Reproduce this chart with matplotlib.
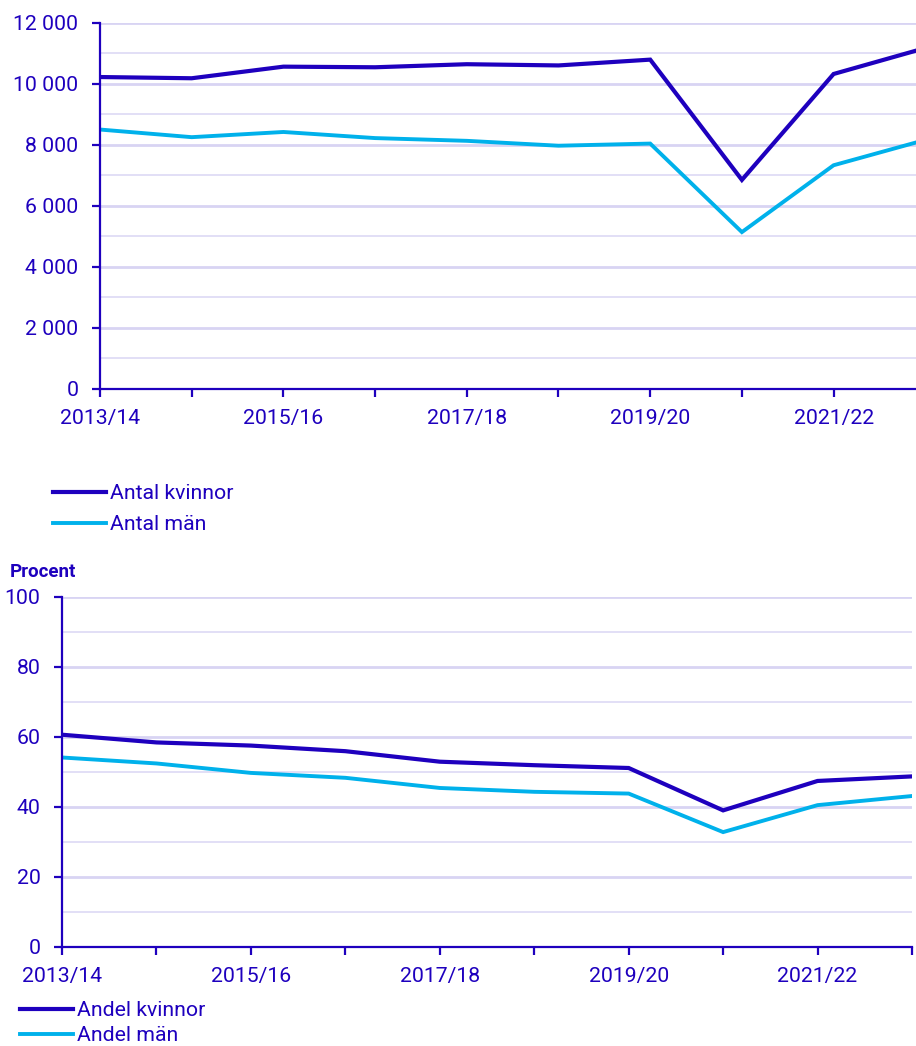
import matplotlib
matplotlib.use("Agg")
import matplotlib.pyplot as plt
from matplotlib.ticker import FuncFormatter, MultipleLocator

plt.rcParams["font.family"] = ["Roboto", "DejaVu Sans"]

# data
years = ["2013/14", "2014/15", "2015/16", "2016/17", "2017/18",
         "2018/19", "2019/20", "2020/21", "2021/22", "2022/23"]
antal_kvinnor = [10220, 10180, 10560, 10540, 10640, 10600, 10790, 6850, 10320, 11170]
antal_man = [8500, 8250, 8420, 8220, 8130, 7970, 8040, 5140, 7330, 8160]
andel_kvinnor = [60.6, 58.4, 57.5, 55.9, 52.9, 51.9, 51.1, 39.0, 47.4, 48.7]
andel_man = [54.1, 52.4, 49.7, 48.3, 45.4, 44.3, 43.8, 32.8, 40.5, 43.1]

DARK = "#1E00BE"
LIGHT = "#00B1EB"
GRID = "#D8D4F3"
FS = 15.3

W, H = 916, 1046
fig = plt.figure(figsize=(W / 100, H / 100), dpi=100)


def px_axes(x0, y0, x1, y1):
    # pixel box (top-left origin) -> figure fraction
    return fig.add_axes([x0 / W, 1 - y1 / H, (x1 - x0) / W, (y1 - y0) / H])


def style(ax, ymax, major, minor, fmt):
    x = range(len(years))
    ax.set_xlim(0, len(years) - 1)
    ax.set_ylim(0, ymax)
    ax.set_xticks(list(x))
    ax.set_xticklabels([y if i % 2 == 0 else "" for i, y in enumerate(years)])
    ax.yaxis.set_major_locator(MultipleLocator(major))
    ax.yaxis.set_minor_locator(MultipleLocator(minor))
    ax.yaxis.set_major_formatter(FuncFormatter(fmt))
    ax.grid(axis="y", which="major", color=GRID, lw=2.0)
    ax.grid(axis="y", which="minor", color=GRID, lw=1.3, alpha=0.8)
    ax.set_axisbelow(True)
    for s in ("top", "right"):
        ax.spines[s].set_visible(False)
    for s in ("left", "bottom"):
        ax.spines[s].set_color(DARK)
        ax.spines[s].set_linewidth(1.6)
    ax.tick_params(axis="both", which="major", colors=DARK, labelcolor=DARK,
                   labelsize=FS, length=5.5, width=1.6)
    ax.tick_params(axis="y", which="minor", length=0)
    ax.tick_params(axis="y", pad=10)
    ax.tick_params(axis="x", pad=9)


def thousands(v, pos):
    return f"{int(v):,}".replace(",", " ")


# top panel: the last category falls just past the right edge of the image
ax1 = px_axes(100, 22.7, 925.3, 389)
style(ax1, 12000, 2000, 1000, thousands)
l1, = ax1.plot(range(len(years)), antal_kvinnor, color=DARK, lw=3.0,
               solid_joinstyle="miter", label="Antal kvinnor")
l2, = ax1.plot(range(len(years)), antal_man, color=LIGHT, lw=2.8,
               solid_joinstyle="miter", label="Antal män")

fig.legend(handles=[l1, l2], loc="upper left", bbox_to_anchor=(53 / W, 1 - 484 / H),
           frameon=False, fontsize=FS, labelcolor=DARK, handlelength=2.5,
           handletextpad=0.2, labelspacing=0.58, borderpad=0, borderaxespad=0)

# bottom panel
ax2 = px_axes(62, 596.7, 912, 947)
style(ax2, 100, 20, 10, lambda v, p: f"{int(v)}")
l3, = ax2.plot(range(len(years)), andel_kvinnor, color=DARK, lw=3.0,
               solid_joinstyle="miter", label="Andel kvinnor")
l4, = ax2.plot(range(len(years)), andel_man, color=LIGHT, lw=2.8,
               solid_joinstyle="miter", label="Andel män")

fig.text(10 / W, 1 - 572 / H, "Procent", color=DARK, fontsize=13.5,
         fontweight="bold", va="center", ha="left")

fig.legend(handles=[l3, l4], loc="upper left", bbox_to_anchor=(20 / W, 1 - 1001 / H),
           frameon=False, fontsize=FS, labelcolor=DARK, handlelength=2.5,
           handletextpad=0.2, labelspacing=0.3, borderpad=0, borderaxespad=0)

fig.savefig("out.png", dpi=100)
